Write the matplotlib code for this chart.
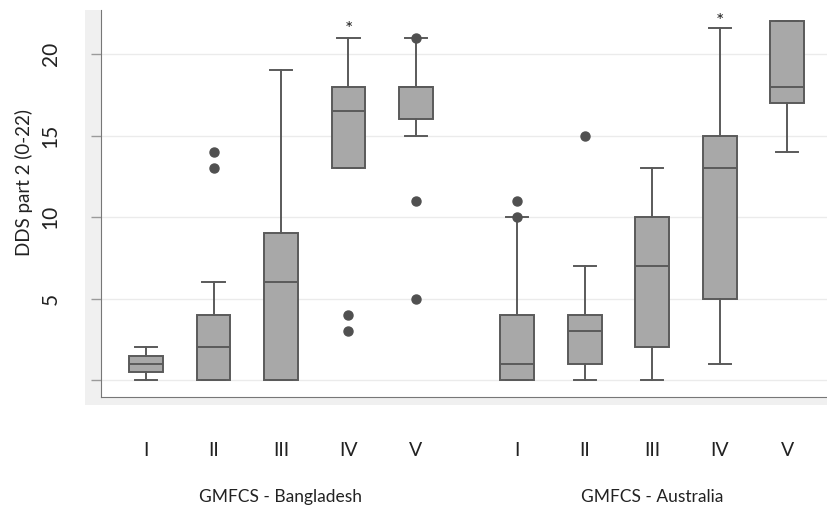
import matplotlib.pyplot as plt
import matplotlib.patches as patches
import matplotlib.transforms as mtransforms

plt.rcParams['font.family'] = ['Lato', 'DejaVu Sans']

# GMFCS levels, box statistics
levels = ["I", "II", "III", "IV", "V"]
groups = ["GMFCS - Bangladesh", "GMFCS - Australia"]

bd_q1 = [0.5, 0, 0, 13, 16]
bd_med = [1, 2, 6, 16.5, 18]
bd_q3 = [1.5, 4, 9, 18, 18]
bd_lo = [0, 0, 0, 13, 15]
bd_hi = [2, 6, 19, 21, 21]
bd_out = [[], [13, 14], [], [3, 4], [5, 11, 21]]

au_q1 = [0, 1, 2, 5, 17]
au_med = [1, 3, 7, 13, 18]
au_q3 = [4, 4, 10, 15, 22]
au_lo = [0, 0, 0, 1, 14]
au_hi = [10, 7, 13, 21.6, 22]
au_out = [[10, 11], [15], [], [], []]

# significance markers (group index, level index, y)
stars = [(0, 3, 21.5), (1, 3, 22.0)]

pos_bd = [1, 2, 3, 4, 5]
pos_au = [6.5, 7.5, 8.5, 9.5, 10.5]

fig = plt.figure(figsize=(8.27, 5.14), dpi=100)

# light grey band around the plot region
fig.patches.append(patches.Rectangle((85 / 827, 1 - 405 / 514), 1, 395 / 514,
                                     transform=fig.transFigure, facecolor="#f0f0f0",
                                     edgecolor="none", zorder=-5))

ax = fig.add_axes([101 / 827, 1 - 397 / 514, 1 - 101 / 827, 387 / 514])
ax.set_facecolor("white")

stats = []
for q1, med, q3, lo, hi, out in zip(bd_q1 + au_q1, bd_med + au_med, bd_q3 + au_q3,
                                     bd_lo + au_lo, bd_hi + au_hi, bd_out + au_out):
    stats.append(dict(q1=q1, med=med, q3=q3, whislo=lo, whishi=hi, fliers=out))

edge = "#5a5a5a"
ax.bxp(stats, positions=pos_bd + pos_au, widths=0.5, capwidths=0.33,
       patch_artist=True, showfliers=True,
       boxprops=dict(facecolor="#a8a8a8", edgecolor=edge, linewidth=1.4),
       medianprops=dict(color=edge, linewidth=1.4),
       whiskerprops=dict(color=edge, linewidth=1.4),
       capprops=dict(color=edge, linewidth=1.4),
       flierprops=dict(marker="o", markersize=6.5, markerfacecolor="#505050",
                       markeredgecolor="#505050"), zorder=3)

for g, l, y in stars:
    x = (pos_bd if g == 0 else pos_au)[l]
    ax.text(x, y, "*", ha="center", va="center", fontsize=14, color="#222222")

ax.set_xlim(0.333, 11.09)
ax.set_ylim(-1.04, 22.7)
ax.set_yticks([0, 5, 10, 15, 20])
ax.set_yticklabels(["", "5", "10", "15", "20"], rotation=90, va="center")
ax.tick_params(axis="y", length=7, width=1, color="#9a9a9a", pad=22,
               labelsize=15, labelcolor="#222222")
ax.set_xticks([])
ax.grid(axis="y", color="#ebebeb", linewidth=1)
ax.set_axisbelow(True)

for side in ["top", "right"]:
    ax.spines[side].set_visible(False)
ax.spines["left"].set_color("#777777")
ax.spines["bottom"].set_color("#777777")

trans = mtransforms.blended_transform_factory(ax.transData, fig.transFigure)
for p, lab in zip(pos_bd + pos_au, levels + levels):
    ax.text(p, 1 - 450 / 514, lab, transform=trans, ha="center", va="center",
            fontsize=14, color="#222222")
ax.text(3, 1 - 497 / 514, groups[0], transform=trans, ha="center", va="center",
        fontsize=12.5, color="#222222")
ax.text(8.5, 1 - 497 / 514, groups[1], transform=trans, ha="center", va="center",
        fontsize=12.5, color="#222222")

fig.text(24 / 827, 1 - 182 / 514, "DDS part 2 (0-22)", rotation=90,
         ha="center", va="center", fontsize=13.5, color="#222222")

fig.savefig("out.png", dpi=100)
